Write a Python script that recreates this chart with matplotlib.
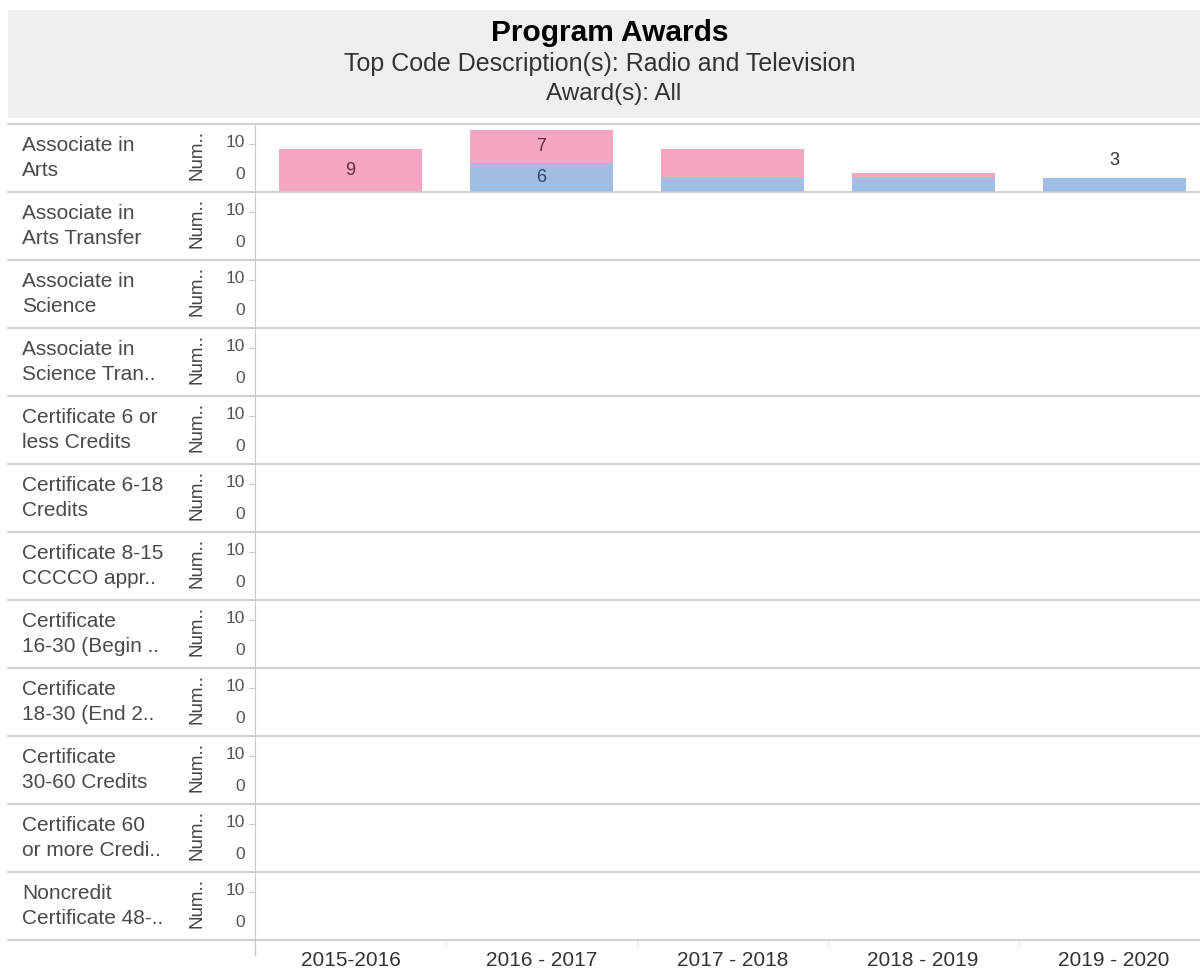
import matplotlib
matplotlib.use("Agg")
import matplotlib.pyplot as plt
import matplotlib.transforms as mtransforms
from matplotlib.lines import Line2D
from matplotlib.patches import Rectangle

plt.rcParams["font.family"] = ["Liberation Sans", "DejaVu Sans"]

years = ["2015-2016", "2016 - 2017", "2017 - 2018", "2018 - 2019", "2019 - 2020"]
award_types = [
    "Associate in\nArts",
    "Associate in\nArts Transfer",
    "Associate in\nScience",
    "Associate in\nScience Tran..",
    "Certificate 6 or\nless Credits",
    "Certificate 6-18\nCredits",
    "Certificate 8-15\nCCCCO appr..",
    "Certificate\n16-30 (Begin ..",
    "Certificate\n18-30 (End 2..",
    "Certificate\n30-60 Credits",
    "Certificate 60\nor more Credi..",
    "Noncredit\nCertificate 48-..",
]

# only "Associate in Arts" has awards; two stacked groups (blue below, pink on top)
blue_counts = [0, 6, 3, 3, 3]
pink_counts = [9, 7, 6, 1, 0]
# which mark labels Tableau actually shows
show_blue = [False, True, False, False, True]
show_pink = [True, True, False, False, False]

BLUE = "#a0bee3"
PINK = "#f4a6c2"
GRID = "#c9c9c9"

W, H = 1200, 972
fig = plt.figure(figsize=(W / 100, H / 100), dpi=100)

# header band
fig.patches.append(Rectangle((8 / W, 1 - 118 / H), 1 - 8 / W, 108 / H,
                             transform=fig.transFigure, facecolor="#efefef",
                             edgecolor="none", zorder=0))
fig.text(610 / W, 1 - 33 / H, "Program Awards", ha="center", va="center",
         fontsize=21.5, fontweight="bold", color="black")
fig.text(600 / W, 1 - 64 / H, "Top Code Description(s): Radio and Television",
         ha="center", va="center", fontsize=18, color="#333333")
fig.text(614 / W, 1 - 94 / H, "Award(s): All", ha="center", va="center",
         fontsize=17.5, color="#333333")

top_px, bot_px = 124, 940
row_h = (bot_px - top_px) / len(award_types)
left_px = 255

x = list(range(len(years)))
axes = []
for i, label in enumerate(award_types):
    ax = fig.add_axes([left_px / W, 1 - (top_px + (i + 1) * row_h) / H,
                       1 - left_px / W, row_h / H])
    axes.append(ax)
    ax.set_xlim(-0.5, 4.45)
    ax.set_ylim(0, 14.2)
    for s in ["top", "right", "bottom"]:
        ax.spines[s].set_visible(False)
    ax.spines["left"].set_color(GRID)
    ax.set_yticks([0, 10])
    ax.set_yticklabels(["0", "10"])
    ax.tick_params(axis="y", labelsize=12.5, color=GRID, labelcolor="#555555",
                   length=4, width=0.8, pad=3)
    ax.set_xticks([])
    # keep the "0" label clear of the row separator, as Tableau does
    zl = ax.get_yticklabels()[0]
    zl.set_va("bottom")
    zl.set_transform(zl.get_transform() +
                     mtransforms.ScaledTranslation(0, 10 / 100, fig.dpi_scale_trans))
    tl = ax.get_yticklabels()[1]
    tl.set_transform(tl.get_transform() +
                     mtransforms.ScaledTranslation(0, 3 / 100, fig.dpi_scale_trans))

    if i == 0:
        ax.bar(x, blue_counts, width=0.75, color=BLUE, edgecolor="none")
        ax.bar(x, pink_counts, width=0.75, bottom=blue_counts, color=PINK,
               edgecolor="none")
        for xi, b, p, sb, sp in zip(x, blue_counts, pink_counts, show_blue, show_pink):
            if sb:
                if p > 0:
                    ax.text(xi, b / 2, str(b), ha="center", va="center",
                            fontsize=13, color="#34445e")
                else:
                    ax.text(xi, b + 3.5, str(b), ha="center", va="center",
                            fontsize=13, color="#333333")
            if sp:
                ax.text(xi, b + p / 2, str(p), ha="center", va="center",
                        fontsize=13, color="#6a2a3c")

    # row label and axis title
    ycen = 1 - (top_px + (i + 0.5) * row_h) / H
    fig.text(22 / W, ycen, label, ha="left", va="center", fontsize=15,
             color="#4a4a4a", linespacing=1.35)
    trans = mtransforms.blended_transform_factory(fig.transFigure, ax.transAxes)
    ax.text(197 / W, 0.55, "Num..", rotation=90, ha="center", va="center",
            fontsize=13.5, color="#444444", transform=trans)

    # row separator lines across the whole width
    yline = 1 - (top_px + (i + 1) * row_h) / H
    fig.add_artist(Line2D([8 / W, 1], [yline, yline], color=GRID, lw=1.2,
                          transform=fig.transFigure))

fig.add_artist(Line2D([8 / W, 1], [1 - top_px / H, 1 - top_px / H], color=GRID,
                      lw=1.2, transform=fig.transFigure))

# year labels under the last row
last = axes[-1]
last.set_xticks(x)
last.set_xticklabels(years)
last.set_xticks([xi + 0.5 for xi in x[:-1]], minor=True)
last.tick_params(axis="x", which="major", length=0, labelsize=15,
                 colors="#333333", pad=8)
last.tick_params(axis="x", which="minor", length=5, color="#dddddd")
fig.add_artist(Line2D([left_px / W, left_px / W], [1 - bot_px / H, 1 - 955 / H],
                      color=GRID, lw=1, transform=fig.transFigure))

fig.savefig("out.png", dpi=100)
